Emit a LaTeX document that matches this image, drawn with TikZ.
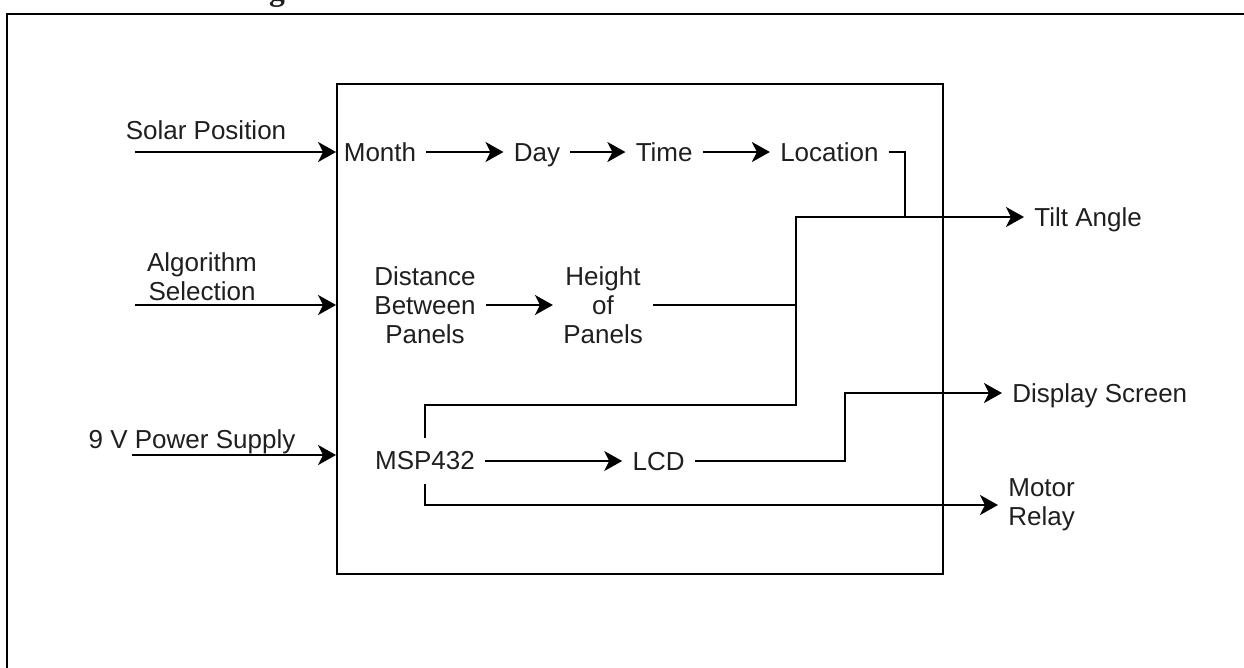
\documentclass[tikz,border=0pt]{standalone}
\usepackage{fontspec}
\setmainfont{Liberation Sans}
\newfontfamily\headfont{Liberation Serif}
\usetikzlibrary{arrows.meta,positioning,calc}

\begin{document}
\begin{tikzpicture}[x=0.02cm, y=-0.02cm,
    font=\fontsize{14.8}{16.6}\selectfont, text=black!88,
    lbl/.style={inner xsep=0.2cm, inner ysep=0pt, align=center},
    word/.style={lbl, text height=10.6pt, text depth=0pt},
    wire/.style={line width=1.15pt},
    arr/.style={wire, -{Stealth[length=0.36cm, width=0.4cm, inset=0.1cm]}}]
\useasboundingbox (0,0) rectangle (1244,667);
\clip (0,0) rectangle (1244,667);
% page frame and cut heading
\node[font=\headfont\bfseries\fontsize{18}{20}\selectfont, anchor=base, inner sep=0pt] (heading) at (277,0) {g};
\draw[line width=1.7pt] (7,720) -- (7,14) -- (1300,14);

% controller
\node[draw, wire, minimum width=12.12cm, minimum height=9.8cm, inner sep=0pt] (board) at (640,329) {};

% inputs
\node[word] (solar) at (206,130) {Solar Position};
\node[lbl] (algo) at (202,277) {Algorithm\\Selection};
\node[word] (power) at (192,439) {9 V Power Supply};
\coordinate (solarin) at (135,152);
\coordinate (algoin) at (135,305);
\coordinate (powerin) at (132,455);
\draw[arr] (solarin) -- (solarin -| board.west);
\draw[arr] (algoin) -- (algoin -| board.west);
\draw[arr] (powerin) -- (powerin -| board.west);

% solar position chain
\node[word] (month) at (380,152) {Month};
\node[word, right=1.54cm of month] (day) {Day};
\node[word, right=1.1cm of day] (time) {Time};
\node[word, right=1.34cm of time] (loc) {Location};
\draw[arr] (month) -- (day);
\draw[arr] (day) -- (time);
\draw[arr] (time) -- (loc);

% panel geometry
\node[lbl] (dist) at (425,305) {Distance\\Between\\Panels};
\node[lbl, right=1.34cm of dist] (height) {Height\\of\\Panels};
\draw[arr] (dist) -- (height);

% microcontroller
\node[lbl, minimum height=0.92cm] (msp) at (425,461) {MSP432};
\node[word, right=2.74cm of msp] (lcd) {LCD};
\draw[arr] (msp) -- (lcd);

% outputs
\node[word, anchor=west] (tilt) at (1024,217) {Tilt Angle};
\node[word, anchor=west] (display) at (1002,393) {Display Screen};
\node[lbl, anchor=west] (motor) at (998,505) {Motor\\Relay};

\coordinate (bus) at (796,405);
\coordinate (locdrop) at (905,217);
\coordinate (lcdup) at (845,393);
\draw[wire] (loc.east) -| (locdrop);
\draw[wire] (height.east) -- (height.east -| bus);
\draw[arr] (msp.north) |- (bus) |- (tilt.west);
\draw[arr] (lcd.east) -| (lcdup) -- (display.west);
\draw[arr] (msp.south) |- (motor.west);
\end{tikzpicture}
\end{document}
